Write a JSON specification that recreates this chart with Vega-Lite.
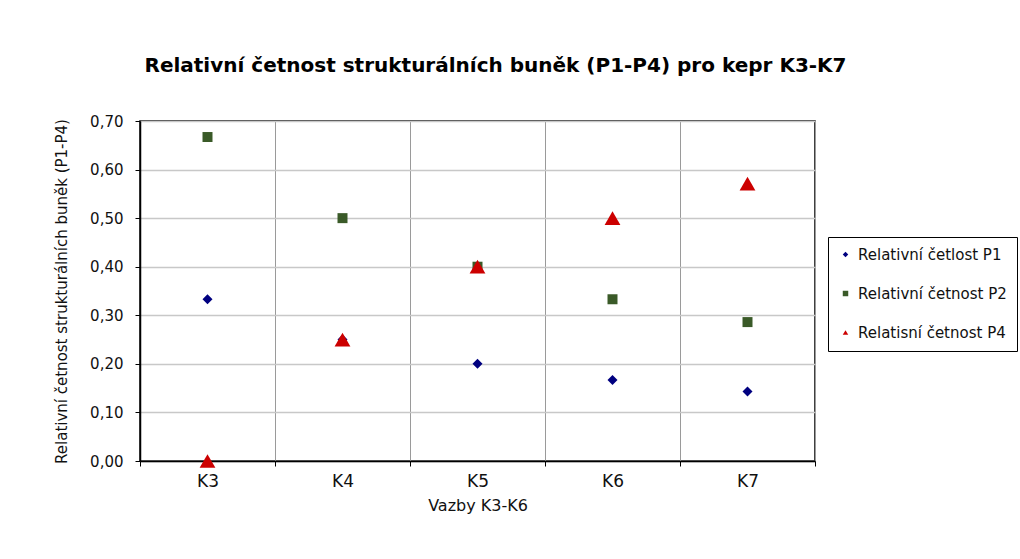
{
  "$schema": "https://vega.github.io/schema/vega-lite/v6.json",
  "width": 675,
  "height": 340,
  "autosize": {"type": "none"},
  "padding": {"left": 140, "top": 121, "right": 205, "bottom": 98},
  "background": "white",
  "title": {
    "text": "Relativní četnost strukturálních buněk (P1-P4) pro kepr K3-K7",
    "font": "DejaVu Sans",
    "fontSize": 20,
    "fontWeight": "bold",
    "color": "#000",
    "anchor": "middle",
    "frame": "group",
    "dx": 18,
    "offset": 38
  },
  "data": {
    "values": [
      {"k": "K3", "series": "Relativní četlost P1", "v": 0.333},
      {"k": "K4", "series": "Relativní četlost P1", "v": 0.25},
      {"k": "K5", "series": "Relativní četlost P1", "v": 0.2},
      {"k": "K6", "series": "Relativní četlost P1", "v": 0.167},
      {"k": "K7", "series": "Relativní četlost P1", "v": 0.143},
      {"k": "K3", "series": "Relativní četnost P2", "v": 0.667},
      {"k": "K4", "series": "Relativní četnost P2", "v": 0.5},
      {"k": "K5", "series": "Relativní četnost P2", "v": 0.4},
      {"k": "K6", "series": "Relativní četnost P2", "v": 0.333},
      {"k": "K7", "series": "Relativní četnost P2", "v": 0.286},
      {"k": "K3", "series": "Relatisní četnost P4", "v": 0.0},
      {"k": "K4", "series": "Relatisní četnost P4", "v": 0.25},
      {"k": "K5", "series": "Relatisní četnost P4", "v": 0.4},
      {"k": "K6", "series": "Relatisní četnost P4", "v": 0.5},
      {"k": "K7", "series": "Relatisní četnost P4", "v": 0.571}
    ]
  },
  "encoding": {
    "x": {
      "field": "k",
      "type": "nominal",
      "scale": {"type": "band", "paddingInner": 0, "paddingOuter": 0},
      "axis": {
        "title": "Vazby K3-K6",
        "labelAngle": 0,
        "tickBand": "extent",
        "grid": true,
        "gridColor": "#9a9a9a",
        "gridWidth": 1,
        "labelFontSize": 17,
        "labelPadding": 7,
        "titleFontSize": 16,
        "titlePadding": 8
      }
    },
    "y": {
      "field": "v",
      "type": "quantitative",
      "scale": {"domain": [0, 0.7], "nice": false},
      "axis": {
        "title": "Relativní četnost strukturálních buněk (P1-P4)",
        "values": [0, 0.1, 0.2, 0.3, 0.4, 0.5, 0.6, 0.7],
        "labelExpr": "replace(format(datum.value, '.2f'), '.', ',')",
        "grid": true,
        "gridColor": "#c8c8c8",
        "gridWidth": 1.5,
        "labelFontSize": 15,
        "labelPadding": 12,
        "titleFontSize": 15,
        "titlePadding": 20
      }
    },
    "color": {
      "field": "series",
      "type": "nominal",
      "scale": {
        "domain": ["Relativní četlost P1", "Relativní četnost P2", "Relatisní četnost P4"],
        "range": ["#000080", "#3a5a28", "#cc0000"]
      },
      "legend": {
        "title": null,
        "orient": "none",
        "legendX": 688,
        "legendY": 116
      }
    },
    "shape": {
      "field": "series",
      "type": "nominal",
      "scale": {
        "domain": ["Relativní četlost P1", "Relativní četnost P2", "Relatisní četnost P4"],
        "range": ["diamond", "square", "triangle-up"]
      },
      "legend": null
    }
  },
  "layer": [
    {
      "transform": [{"filter": "datum.series !== 'Relatisní četnost P4'"}],
      "mark": {"type": "point", "filled": true, "opacity": 1, "clip": false, "size": 100}
    },
    {
      "transform": [{"filter": "datum.series === 'Relatisní četnost P4'"}],
      "mark": {"type": "point", "filled": true, "opacity": 1, "clip": false, "size": 250}
    }
  ],
  "config": {
    "font": "DejaVu Sans",
    "view": {"stroke": "#000", "strokeWidth": 1.5},
    "axis": {
      "domainColor": "#000",
      "domainWidth": 1.5,
      "tickColor": "#000",
      "tickSize": 5,
      "labelFont": "DejaVu Sans",
      "labelColor": "#111",
      "titleFont": "DejaVu Sans",
      "titleFontWeight": "normal",
      "titleColor": "#111"
    },
    "legend": {
      "labelFont": "DejaVu Sans",
      "labelFontSize": 15,
      "labelColor": "#111",
      "symbolSize": 30,
      "rowPadding": 23,
      "padding": 10,
      "labelOffset": 5,
      "strokeColor": "#000",
      "labelLimit": 300
    }
  }
}
